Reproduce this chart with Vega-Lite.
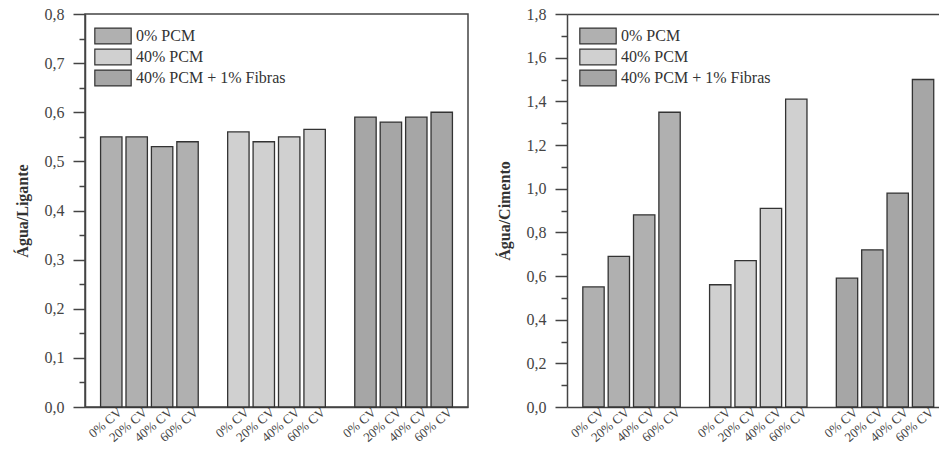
{
  "$schema": "https://vega.github.io/schema/vega-lite/v6.json",
  "background": "white",
  "padding": {"left": 13, "top": 5, "right": 0, "bottom": 0},
  "autosize": {"type": "pad"},
  "spacing": 27,
  "data": {
    "values": [
      {"painel": "ligante", "serie": "0% PCM", "barra": "A|0% CV", "valor": 0.55},
      {"painel": "ligante", "serie": "0% PCM", "barra": "A|20% CV", "valor": 0.55},
      {"painel": "ligante", "serie": "0% PCM", "barra": "A|40% CV", "valor": 0.53},
      {"painel": "ligante", "serie": "0% PCM", "barra": "A|60% CV", "valor": 0.54},
      {"painel": "ligante", "serie": "40% PCM", "barra": "B|0% CV", "valor": 0.56},
      {"painel": "ligante", "serie": "40% PCM", "barra": "B|20% CV", "valor": 0.54},
      {"painel": "ligante", "serie": "40% PCM", "barra": "B|40% CV", "valor": 0.55},
      {"painel": "ligante", "serie": "40% PCM", "barra": "B|60% CV", "valor": 0.565},
      {"painel": "ligante", "serie": "40% PCM + 1% Fibras", "barra": "C|0% CV", "valor": 0.59},
      {"painel": "ligante", "serie": "40% PCM + 1% Fibras", "barra": "C|20% CV", "valor": 0.58},
      {"painel": "ligante", "serie": "40% PCM + 1% Fibras", "barra": "C|40% CV", "valor": 0.59},
      {"painel": "ligante", "serie": "40% PCM + 1% Fibras", "barra": "C|60% CV", "valor": 0.60},
      {"painel": "cimento", "serie": "0% PCM", "barra": "A|0% CV", "valor": 0.55},
      {"painel": "cimento", "serie": "0% PCM", "barra": "A|20% CV", "valor": 0.69},
      {"painel": "cimento", "serie": "0% PCM", "barra": "A|40% CV", "valor": 0.88},
      {"painel": "cimento", "serie": "0% PCM", "barra": "A|60% CV", "valor": 1.35},
      {"painel": "cimento", "serie": "40% PCM", "barra": "B|0% CV", "valor": 0.56},
      {"painel": "cimento", "serie": "40% PCM", "barra": "B|20% CV", "valor": 0.67},
      {"painel": "cimento", "serie": "40% PCM", "barra": "B|40% CV", "valor": 0.91},
      {"painel": "cimento", "serie": "40% PCM", "barra": "B|60% CV", "valor": 1.41},
      {"painel": "cimento", "serie": "40% PCM + 1% Fibras", "barra": "C|0% CV", "valor": 0.59},
      {"painel": "cimento", "serie": "40% PCM + 1% Fibras", "barra": "C|20% CV", "valor": 0.72},
      {"painel": "cimento", "serie": "40% PCM + 1% Fibras", "barra": "C|40% CV", "valor": 0.98},
      {"painel": "cimento", "serie": "40% PCM + 1% Fibras", "barra": "C|60% CV", "valor": 1.50}
    ]
  },
  "hconcat": [
    {
      "width": 383,
      "height": 393,
      "view": {"stroke": "#444", "strokeWidth": 1.5},
      "transform": [{"filter": "datum.painel == 'ligante'"}],
      "mark": {"type": "bar", "stroke": "#333", "strokeWidth": 1.3},
      "encoding": {
        "x": {
          "field": "barra",
          "type": "nominal",
          "scale": {
            "domain": ["A|0% CV", "A|20% CV", "A|40% CV", "A|60% CV", "gap1", "B|0% CV", "B|20% CV", "B|40% CV", "B|60% CV", "gap2", "C|0% CV", "C|20% CV", "C|40% CV", "C|60% CV"],
            "paddingInner": 0.158,
            "paddingOuter": 0.6125,
            "align": 0.5
          },
          "axis": {
            "title": null,
            "ticks": false,
            "domainColor": "#444",
            "domainWidth": 1.5,
            "labelAngle": -40,
            "labelAlign": "right",
            "labelBaseline": "middle",
            "labelOffset": 9,
            "labelPadding": 3,
            "labelFontSize": 13,
            "labelColor": "#444",
            "labelOverlap": false,
            "labelBound": false,
            "labelExpr": "indexof(datum.label, '|') > 0 ? substring(datum.label, indexof(datum.label, '|') + 1) : ''"
          }
        },
        "y": {
          "field": "valor",
          "type": "quantitative",
          "scale": {"domain": [0, 0.8], "nice": false},
          "axis": {
            "title": "Água/Ligante",
            "titleFontSize": 16,
            "titleFontWeight": "bold",
            "titleColor": "#333",
            "titlePadding": 14,
            "grid": false,
            "values": [0, 0.05, 0.1, 0.15, 0.2, 0.25, 0.3, 0.35, 0.4, 0.45, 0.5, 0.55, 0.6, 0.65, 0.7, 0.75, 0.8],
            "labelExpr": "round(datum.value * 100) % 10 == 0 ? replace(format(datum.value, '.1f'), '.', ',') : ''",
            "tickSize": {"condition": {"test": "round(datum.value * 100) % 10 == 0", "value": 12}, "value": 6},
            "labelFontSize": 16,
            "labelColor": "#444",
            "labelPadding": 9,
            "labelOverlap": false,
            "domainColor": "#444",
            "domainWidth": 1.5,
            "tickColor": "#444",
            "tickWidth": 1.5
          }
        },
        "color": {
          "field": "serie",
          "type": "nominal",
          "scale": {
            "domain": ["0% PCM", "40% PCM", "40% PCM + 1% Fibras"],
            "range": ["#b0b0b0", "#d0d0d0", "#a6a6a6"]
          },
          "legend": {
            "title": null,
            "orient": "none",
            "legendX": 19,
            "legendY": 13,
            "symbolType": "M-2.3,-1H2.3V1H-2.3Z",
            "symbolSize": 250,
            "symbolStrokeColor": "#333",
            "symbolStrokeWidth": 1.2,
            "symbolOpacity": 1,
            "labelFontSize": 16,
            "labelColor": "#333",
            "labelOffset": 14,
            "rowPadding": -1,
            "padding": 0
          }
        }
      }
    },
    {
      "width": 372,
      "height": 393,
      "view": {"stroke": null},
      "transform": [{"filter": "datum.painel == 'cimento'"}],
      "mark": {"type": "bar", "stroke": "#333", "strokeWidth": 1.3},
      "encoding": {
        "x": {
          "field": "barra",
          "type": "nominal",
          "scale": {
            "domain": ["A|0% CV", "A|20% CV", "A|40% CV", "A|60% CV", "gap1", "B|0% CV", "B|20% CV", "B|40% CV", "B|60% CV", "gap2", "C|0% CV", "C|20% CV", "C|40% CV", "C|60% CV"],
            "paddingInner": 0.158,
            "paddingOuter": 0.416,
            "align": 0.75
          },
          "axis": {
            "title": null,
            "ticks": false,
            "domainColor": "#444",
            "domainWidth": 1.5,
            "labelAngle": -40,
            "labelAlign": "right",
            "labelBaseline": "middle",
            "labelOffset": 9,
            "labelPadding": 3,
            "labelFontSize": 13,
            "labelColor": "#444",
            "labelOverlap": false,
            "labelBound": false,
            "labelExpr": "indexof(datum.label, '|') > 0 ? substring(datum.label, indexof(datum.label, '|') + 1) : ''"
          }
        },
        "y": {
          "field": "valor",
          "type": "quantitative",
          "scale": {"domain": [0, 1.8], "nice": false},
          "axis": {
            "title": "Água/Cimento",
            "titleFontSize": 16,
            "titleFontWeight": "bold",
            "titleColor": "#333",
            "titlePadding": 14,
            "grid": true,
            "gridColor": "#444",
            "gridWidth": 1.5,
            "gridOpacity": {"condition": {"test": "datum.value > 1.79", "value": 1}, "value": 0},
            "values": [0, 0.1, 0.2, 0.3, 0.4, 0.5, 0.6, 0.7, 0.8, 0.9, 1.0, 1.1, 1.2, 1.3, 1.4, 1.5, 1.6, 1.7, 1.8],
            "labelExpr": "round(datum.value * 10) % 2 == 0 ? replace(format(datum.value, '.1f'), '.', ',') : ''",
            "tickSize": {"condition": {"test": "round(datum.value * 10) % 2 == 0", "value": 12}, "value": 6},
            "labelFontSize": 16,
            "labelColor": "#444",
            "labelPadding": 9,
            "labelOverlap": false,
            "domainColor": "#444",
            "domainWidth": 1.5,
            "tickColor": "#444",
            "tickWidth": 1.5
          }
        },
        "color": {
          "field": "serie",
          "type": "nominal",
          "scale": {
            "domain": ["0% PCM", "40% PCM", "40% PCM + 1% Fibras"],
            "range": ["#b0b0b0", "#d0d0d0", "#a6a6a6"]
          },
          "legend": {
            "title": null,
            "orient": "none",
            "legendX": 22,
            "legendY": 13,
            "symbolType": "M-2.3,-1H2.3V1H-2.3Z",
            "symbolSize": 250,
            "symbolStrokeColor": "#333",
            "symbolStrokeWidth": 1.2,
            "symbolOpacity": 1,
            "labelFontSize": 16,
            "labelColor": "#333",
            "labelOffset": 14,
            "rowPadding": -1,
            "padding": 0
          }
        }
      }
    }
  ],
  "resolve": {
    "scale": {"x": "independent", "y": "independent", "color": "independent"},
    "legend": {"color": "independent"},
    "axis": {"x": "independent", "y": "independent"}
  },
  "config": {
    "font": "Liberation Serif",
    "axis": {"labelFont": "Liberation Serif", "titleFont": "Liberation Serif"},
    "legend": {"labelFont": "Liberation Serif"}
  }
}
